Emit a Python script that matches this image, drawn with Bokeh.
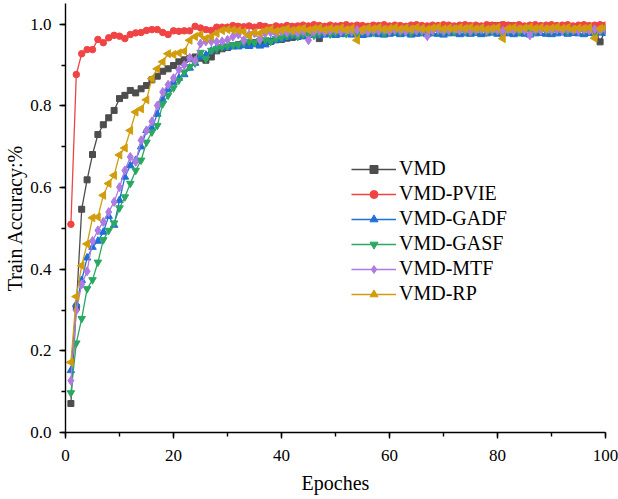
import numpy as np
from bokeh.plotting import figure
from bokeh.models import Range1d, SingleIntervalTicker, NumeralTickFormatter, Legend, LegendItem
from bokeh.embed import file_html
from bokeh.resources import INLINE

epochs = list(range(1, 101))

vmd = [0.071,0.307,0.547,0.619,0.681,0.730,0.754,0.771,0.789,0.818,
       0.826,0.838,0.832,0.842,0.850,0.864,0.873,0.885,0.891,0.899,
       0.908,0.913,0.916,0.920,0.917,0.912,0.920,0.935,0.940,0.943,
       0.947,0.950,0.952,0.950,0.955,0.957,0.955,0.958,0.962,0.963,
       0.966,0.968,0.970,0.972,0.975,0.978,0.965,0.982,0.984,0.985,
       0.986,0.984,0.987,0.985,0.988,0.986,0.987,0.989,0.986,0.988,
       0.990,0.988,0.989,0.987,0.990,0.989,0.988,0.990,0.991,0.989,
       0.990,0.988,0.991,0.990,0.989,0.991,0.993,0.995,0.997,0.997,
       0.998,0.997,0.996,0.992,0.990,0.991,0.989,0.990,0.991,0.989,
       0.990,0.991,0.990,0.989,0.991,0.990,0.989,0.990,0.957,0.986]

vmd_pvie = [0.510,0.877,0.928,0.938,0.938,0.963,0.955,0.967,0.973,0.971,
            0.965,0.975,0.979,0.980,0.985,0.987,0.987,0.980,0.975,0.984,
            0.983,0.984,0.984,0.995,0.991,0.987,0.985,0.993,0.993,0.993,
            0.997,0.995,0.994,0.996,0.993,0.997,0.995,0.992,0.996,0.994,
            0.997,0.995,0.996,0.998,0.996,0.999,0.997,0.995,0.998,0.996,
            0.997,0.999,0.996,0.998,0.997,0.995,0.998,0.997,0.999,0.996,
            0.998,0.997,0.995,0.998,0.999,0.997,0.996,0.998,0.997,0.999,
            0.998,0.996,0.998,0.999,0.997,0.998,0.996,0.999,0.998,0.997,
            0.999,0.998,0.997,0.999,0.996,0.998,0.999,0.997,0.998,0.999,
            0.997,0.998,0.999,0.996,0.998,0.999,0.997,0.998,0.999,0.998]

vmd_gadf = [0.152,0.314,0.373,0.428,0.454,0.469,0.491,0.530,0.508,0.569,
            0.626,0.654,0.667,0.700,0.740,0.746,0.780,0.815,0.840,0.858,
            0.868,0.877,0.893,0.905,0.920,0.925,0.935,0.943,0.945,0.943,
            0.946,0.945,0.948,0.946,0.950,0.947,0.950,0.958,0.962,0.963,
            0.968,0.970,0.972,0.970,0.973,0.975,0.972,0.974,0.976,0.973,
            0.975,0.977,0.974,0.976,0.973,0.975,0.977,0.975,0.974,0.976,
            0.978,0.975,0.977,0.974,0.976,0.978,0.975,0.977,0.976,0.974,
            0.977,0.978,0.975,0.977,0.976,0.978,0.975,0.977,0.979,0.976,
            0.978,0.977,0.975,0.978,0.976,0.974,0.977,0.978,0.976,0.975,
            0.977,0.979,0.976,0.978,0.977,0.975,0.978,0.977,0.979,0.978]

vmd_gasf = [0.097,0.219,0.279,0.352,0.374,0.417,0.472,0.495,0.513,0.550,
            0.577,0.610,0.642,0.667,0.711,0.736,0.752,0.805,0.826,0.844,
            0.863,0.883,0.896,0.905,0.931,0.915,0.936,0.940,0.945,0.947,
            0.950,0.950,0.955,0.958,0.955,0.960,0.962,0.958,0.965,0.968,
            0.972,0.975,0.970,0.976,0.978,0.973,0.977,0.980,0.976,0.979,
            0.981,0.977,0.980,0.978,0.982,0.979,0.981,0.983,0.978,0.981,
            0.983,0.980,0.982,0.979,0.983,0.981,0.978,0.982,0.984,0.980,
            0.983,0.981,0.984,0.982,0.980,0.983,0.985,0.981,0.983,0.984,
            0.982,0.985,0.983,0.981,0.984,0.986,0.982,0.984,0.985,0.983,
            0.986,0.984,0.982,0.985,0.987,0.984,0.986,0.985,0.983,0.986]

vmd_mtf = [0.127,0.299,0.363,0.395,0.469,0.495,0.516,0.540,0.565,0.601,
           0.642,0.675,0.663,0.716,0.740,0.762,0.801,0.834,0.852,0.868,
           0.889,0.900,0.918,0.911,0.953,0.958,0.958,0.957,0.958,0.962,
           0.970,0.975,0.961,0.975,0.978,0.963,0.978,0.980,0.977,0.982,
           0.980,0.983,0.979,0.984,0.961,0.982,0.985,0.981,0.984,0.986,
           0.982,0.985,0.983,0.986,0.984,0.982,0.986,0.984,0.987,0.983,
           0.986,0.985,0.983,0.987,0.985,0.986,0.971,0.985,0.987,0.984,
           0.986,0.988,0.985,0.987,0.984,0.986,0.988,0.985,0.987,0.986,
           0.984,0.987,0.985,0.988,0.986,0.973,0.987,0.985,0.988,0.986,
           0.987,0.985,0.988,0.986,0.984,0.987,0.985,0.988,0.986,0.987]

vmd_rp = [0.172,0.333,0.409,0.462,0.526,0.528,0.581,0.610,0.630,0.680,
          0.697,0.740,0.785,0.793,0.815,0.867,0.891,0.908,0.928,0.926,
          0.930,0.934,0.961,0.970,0.975,0.965,0.970,0.978,0.985,0.987,
          0.986,0.985,0.982,0.972,0.980,0.978,0.985,0.988,0.983,0.986,
          0.989,0.985,0.988,0.990,0.986,0.989,0.991,0.987,0.990,0.988,
          0.991,0.987,0.990,0.961,0.988,0.991,0.989,0.992,0.988,0.990,
          0.992,0.989,0.991,0.988,0.992,0.990,0.988,0.991,0.993,0.989,
          0.991,0.989,0.992,0.990,0.993,0.989,0.991,0.988,0.990,0.992,
          0.965,0.990,0.992,0.989,0.991,0.993,0.990,0.992,0.989,0.991,
          0.993,0.990,0.992,0.988,0.991,0.990,0.992,0.966,0.990,0.992]

labels = ["VMD", "VMD-PVIE", "VMD-GADF", "VMD-GASF", "VMD-MTF", "VMD-RP"]
series = [vmd, vmd_pvie, vmd_gadf, vmd_gasf, vmd_mtf, vmd_rp]
colors = ["#4d4d4d", "#f04343", "#1f6fd8", "#2aa862", "#ad7be2", "#d19d0c"]
markers = ["square", "circle", "triangle", "inverted_triangle", "diamond", "triangle"]
angles = [0, 0, 0, 0, 0, 90]
sizes = [6, 6.5, 7.5, 7.5, 9, 8]

FONT = "Liberation Serif"

p = figure(width=618, height=499, x_range=Range1d(0, 100), y_range=Range1d(0, 1.051),
           output_backend="svg", toolbar_location=None,
           min_border_left=65, min_border_right=13, min_border_top=3, min_border_bottom=67)
p.outline_line_color = None
p.xgrid.visible = False
p.ygrid.visible = False
p.background_fill_color = "white"

p.xaxis.ticker = SingleIntervalTicker(interval=20, num_minor_ticks=2)
p.yaxis.ticker = SingleIntervalTicker(interval=0.2, num_minor_ticks=2)
p.yaxis.formatter = NumeralTickFormatter(format="0.0")

for ax in (p.xaxis[0], p.yaxis[0]):
    ax.axis_line_color = "black"
    ax.axis_line_width = 1.4
    ax.major_tick_line_color = "black"
    ax.major_tick_line_width = 1.4
    ax.minor_tick_line_color = "black"
    ax.minor_tick_line_width = 1.4
    ax.major_tick_in = 0
    ax.major_tick_out = 6
    ax.minor_tick_in = 0
    ax.minor_tick_out = 4
    ax.major_label_text_font = FONT
    ax.major_label_text_font_size = "17px"
    ax.major_label_text_color = "black"
    ax.axis_label_text_font = FONT
    ax.axis_label_text_font_size = "20px"
    ax.axis_label_text_font_style = "normal"
    ax.axis_label_text_color = "black"

p.xaxis.axis_label = "Epoches"
p.yaxis.axis_label = "Train Accuracy:%"
p.xaxis.major_label_standoff = 11
p.yaxis.major_label_standoff = 8
p.xaxis.axis_label_standoff = 8
p.yaxis.axis_label_standoff = 1

items = []
for lab, ys, c, m, a, s in zip(labels, series, colors, markers, angles, sizes):
    lr = p.line(epochs, ys, line_color=c, line_width=1.3)
    sr = p.scatter(epochs, ys, marker=m, size=s, angle=a, angle_units="deg",
                   fill_color=c, line_color=c)
    items.append(LegendItem(label=lab, renderers=[lr, sr]))

legend = Legend(items=items, location=(286, 127))
legend.padding = 0
legend.margin = 0
legend.spacing = 2
legend.border_line_color = None
legend.background_fill_alpha = 0
legend.glyph_width = 45
legend.glyph_height = 20
legend.label_height = 20
legend.label_standoff = 3
legend.label_text_font = FONT
legend.label_text_font_size = "20px"
legend.label_text_color = "black"
p.add_layout(legend, "center")

open("out.html", "w").write(file_html(p, INLINE))
